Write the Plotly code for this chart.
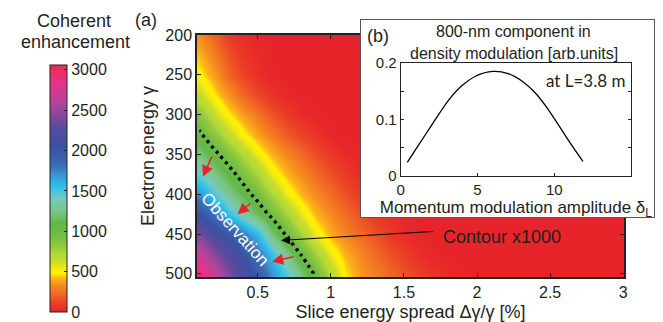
import plotly.graph_objects as go

# ---------------- data ----------------
spread = [0.1, 0.2, 0.3, 0.4, 0.5, 0.6, 0.7, 0.8, 0.9, 1.0,
          1.1, 1.2, 1.3, 1.4, 1.5, 1.6, 1.7, 1.8, 1.9, 2.0,
          2.1, 2.2, 2.3, 2.4, 2.5, 2.6, 2.7, 2.8, 2.9, 3.0]
gamma = [200, 225, 250, 275, 300, 325, 350, 375, 400, 425, 450, 475, 500]
enh = [
    [330, 200, 90, 30, 5, 0, 0, 0, 0, 0, 0, 0, 0, 0, 0, 0, 0, 0, 0, 0, 0, 0, 0, 0, 0, 0, 0, 0, 0, 0],
    [420, 290, 160, 70, 25, 5, 0, 0, 0, 0, 0, 0, 0, 0, 0, 0, 0, 0, 0, 0, 0, 0, 0, 0, 0, 0, 0, 0, 0, 0],
    [500, 370, 220, 110, 40, 10, 0, 0, 0, 0, 0, 0, 0, 0, 0, 0, 0, 0, 0, 0, 0, 0, 0, 0, 0, 0, 0, 0, 0, 0],
    [650, 480, 350, 220, 120, 50, 15, 0, 0, 0, 0, 0, 0, 0, 0, 0, 0, 0, 0, 0, 0, 0, 0, 0, 0, 0, 0, 0, 0, 0],
    [850, 640, 490, 370, 260, 160, 80, 30, 10, 0, 0, 0, 0, 0, 0, 0, 0, 0, 0, 0, 0, 0, 0, 0, 0, 0, 0, 0, 0, 0],
    [1040, 850, 670, 500, 380, 280, 180, 110, 50, 15, 0, 0, 0, 0, 0, 0, 0, 0, 0, 0, 0, 0, 0, 0, 0, 0, 0, 0, 0, 0],
    [1220, 1060, 890, 710, 530, 410, 310, 220, 140, 70, 25, 5, 0, 0, 0, 0, 0, 0, 0, 0, 0, 0, 0, 0, 0, 0, 0, 0, 0, 0],
    [1440, 1260, 1090, 910, 730, 540, 410, 320, 230, 150, 80, 30, 8, 0, 0, 0, 0, 0, 0, 0, 0, 0, 0, 0, 0, 0, 0, 0, 0, 0],
    [1700, 1480, 1290, 1100, 920, 740, 540, 410, 320, 230, 150, 80, 35, 10, 0, 0, 0, 0, 0, 0, 0, 0, 0, 0, 0, 0, 0, 0, 0, 0],
    [2050, 1800, 1560, 1340, 1140, 940, 750, 550, 410, 320, 230, 150, 80, 35, 10, 0, 0, 0, 0, 0, 0, 0, 0, 0, 0, 0, 0, 0, 0, 0],
    [2400, 2180, 1980, 1780, 1560, 1220, 960, 740, 530, 400, 310, 220, 150, 80, 30, 10, 0, 0, 0, 0, 0, 0, 0, 0, 0, 0, 0, 0, 0, 0],
    [2700, 2450, 2250, 2020, 1800, 1540, 1240, 980, 760, 540, 410, 320, 230, 160, 90, 40, 12, 0, 0, 0, 0, 0, 0, 0, 0, 0, 0, 0, 0, 0],
    [2950, 2700, 2420, 2170, 1950, 1700, 1480, 1200, 960, 700, 480, 360, 290, 220, 160, 100, 55, 25, 8, 0, 0, 0, 0, 0, 0, 0, 0, 0, 0, 0],
]
contour_level = 1000

# inset (b)
delta_L = [0.43, 1.0, 1.7, 2.5, 3.2, 4.0, 4.9, 6.0, 7.0, 8.0, 8.8, 9.6, 10.4, 11.2, 11.87]
density_800 = [0.024, 0.048, 0.077, 0.110, 0.137, 0.160, 0.177, 0.185, 0.181, 0.166,
               0.146, 0.118, 0.085, 0.052, 0.026]

cbar_ticks = [0, 500, 1000, 1500, 2000, 2500, 3000]
x_ticks = [0.5, 1, 1.5, 2, 2.5, 3]
y_ticks = [200, 250, 300, 350, 400, 450, 500]

# red arrows (tail -> head) in data coords
red_arrows = [((0.188, 351.8), (0.126, 378.2)),
              ((0.454, 410.8), (0.362, 425.2)),
              ((0.748, 478.5), (0.598, 484.8))]

# ---------------- style ----------------
W, H = 663, 322
FONT = "Liberation Sans, Arial, sans-serif"
TXT = "#231f20"
ZMAX = 3060


def px(x):
    return x / W


def py(y):
    return 1 - y / H


stops = [(0, "#e6242a"), (104, "#eb4026"), (208, "#f06424"), (330, "#f68c1f"),
         (420, "#fbb617"), (480, "#fff200"), (540, "#f2eb14"), (620, "#cbdb2b"),
         (720, "#addb3a"), (800, "#98c93d"), (950, "#6fbe44"), (1100, "#62b847"),
         (1249, "#7cc587"), (1415, "#73c9c3"), (1561, "#27c1ee"), (1686, "#3c97d3"),
         (1811, "#3b6cb5"), (2040, "#3a52a3"), (2290, "#5a4a9e"), (2456, "#8b479c"),
         (2581, "#b0459a"), (2831, "#e5338c"), (3060, "#ee2a4e")]
colorscale = [[v / ZMAX, c] for v, c in stops]

fig = go.Figure()

fig.add_trace(go.Heatmap(
    x=spread, y=gamma, z=enh, zmin=0, zmax=ZMAX, colorscale=colorscale,
    zsmooth="best", xaxis="x", yaxis="y",
    colorbar=dict(x=px(50), xanchor="left", y=py(188.5), yanchor="middle",
                  len=247 / H, lenmode="fraction", thickness=17, thicknessmode="pixels",
                  outlinewidth=1, outlinecolor="#222", tickvals=cbar_ticks,
                  ticks="inside", ticklen=3, tickcolor="#222", xpad=0, ypad=0,
                  tickfont=dict(size=16, family=FONT, color=TXT)),
))

fig.add_trace(go.Contour(
    x=spread, y=gamma, z=enh, xaxis="x", yaxis="y", showscale=False,
    contours=dict(start=contour_level, end=contour_level, size=1, coloring="none"),
    line=dict(color="black", width=3.4, dash="3px,4px"), hoverinfo="skip",
))

# empty trace for the white inset box
fig.add_trace(go.Scatter(x=[], y=[], xaxis="x2", yaxis="y2", showlegend=False))

fig.add_trace(go.Scatter(
    x=delta_L, y=density_800, mode="lines", line=dict(color="black", width=1.3, shape="spline"),
    xaxis="x3", yaxis="y3", showlegend=False,
))

axis_common = dict(showgrid=False, zeroline=False, showline=True, linecolor="#222",
                   ticks="inside", tickcolor="#222", automargin=False,
                   tickfont=dict(size=16, family=FONT, color=TXT))

fig.update_layout(
    template="none",
    width=W, height=H, autosize=False,
    margin=dict(l=0, r=0, t=0, b=0, pad=0),
    paper_bgcolor="white", plot_bgcolor="white",
    font=dict(family=FONT, color=TXT),
    showlegend=False,
    xaxis=dict(domain=[px(197), px(624)], range=[0.085, 3.005], tickvals=x_ticks,
               ticktext=["0.5", "1", "1.5", "2", "2.5", "3"], ticklen=4, linewidth=1.5,
               mirror="ticks", anchor="y",
               title=dict(text="Slice energy spread Δγ/γ [%]", standoff=6,
                          font=dict(size=18, family=FONT, color=TXT)),
               **axis_common),
    yaxis=dict(domain=[py(277), py(35)], range=[504, 200], tickvals=y_ticks, ticklen=4,
               linewidth=1.5, mirror="ticks", anchor="x",
               title=dict(text="Electron energy γ", standoff=6,
                          font=dict(size=18, family=FONT, color=TXT)),
               **axis_common),
    xaxis2=dict(domain=[px(361), px(654)], range=[0, 1], showgrid=False, zeroline=False,
                showline=True, mirror=True, linecolor="#555", linewidth=1, automargin=False,
                showticklabels=False, ticks="", anchor="y2", fixedrange=True),
    yaxis2=dict(domain=[py(217), py(20)], range=[0, 1], showgrid=False, zeroline=False,
                showline=True, mirror=True, linecolor="#555", linewidth=1, automargin=False,
                showticklabels=False, ticks="", anchor="x2", fixedrange=True),
    xaxis3=dict(domain=[px(400.7), px(631)], range=[0, 15], tickvals=[0, 5, 10],
                ticklen=3, linewidth=1, mirror=True, anchor="y3", automargin=False,
                showgrid=False, zeroline=False, showline=True, linecolor="#222",
                ticks="inside", tickcolor="#222",
                tickfont=dict(size=15, family=FONT, color=TXT),
                title=dict(text="Momentum modulation amplitude δ<sub>L</sub>", standoff=1,
                           font=dict(size=17, family=FONT, color=TXT))),
    yaxis3=dict(domain=[py(176), py(63)], range=[0, 0.2],
                tickvals=[0, 0.05, 0.1, 0.15, 0.2], ticktext=["0", "", "0.1", "", "0.2"],
                ticklen=3, linewidth=1, mirror="ticks", anchor="x3", automargin=False,
                showgrid=False, zeroline=False, showline=True, linecolor="#222",
                ticks="inside", tickcolor="#222",
                tickfont=dict(size=15, family=FONT, color=TXT)),
)


def label(text, x, y, size, xanchor="center", family=FONT, color=TXT):
    return dict(text=text, x=px(x), y=py(y), xref="paper", yref="paper",
                xanchor=xanchor, yanchor="middle", showarrow=False,
                font=dict(size=size, family=family, color=color))


def arrow(tail, head, color, size, width):
    return dict(text="", x=head[0], y=head[1], ax=tail[0], ay=tail[1],
                xref="x", yref="y", axref="x", ayref="y", showarrow=True,
                arrowhead=2, arrowsize=size, arrowwidth=width, arrowcolor=color,
                standoff=0, startstandoff=0, borderpad=0, font=dict(size=1))


ann = [
    label("Coherent", 74, 21, 18),
    label("enhancement", 75, 42, 18),
    label("(a)", 146, 20, 18),
    label("(b)", 378, 36, 18),
    label("800-nm component in", 513, 31, 16),
    label("density modulation [arb.units]", 514, 54, 16),
    label("at L=3.8 m", 627, 80, 17, xanchor="right", family="Lato, sans-serif"),
]
ann.append(dict(text="Observation", x=0.345, y=444.7, xref="x", yref="y", textangle=48,
                xanchor="center", yanchor="middle",
                showarrow=False, font=dict(size=17, family=FONT, color="white")))
ann.append(dict(text="Contour x1000", x=2.171, y=453.4, xref="x", yref="y",
                xanchor="center", yanchor="middle",
                showarrow=False, font=dict(size=18, family=FONT, color=TXT)))
ann.append(arrow((1.699, 446.8), (0.660, 458), "black", 1.6, 1.1))
for tail, head in red_arrows:
    ann.append(arrow(tail, head, "#e8232a", 1.5, 1.5))
fig.update_layout(annotations=ann)

fig.write_html("out.html", config={"displayModeBar": False},
               post_script="document.body.style.margin='0';document.body.style.overflow='hidden';")
